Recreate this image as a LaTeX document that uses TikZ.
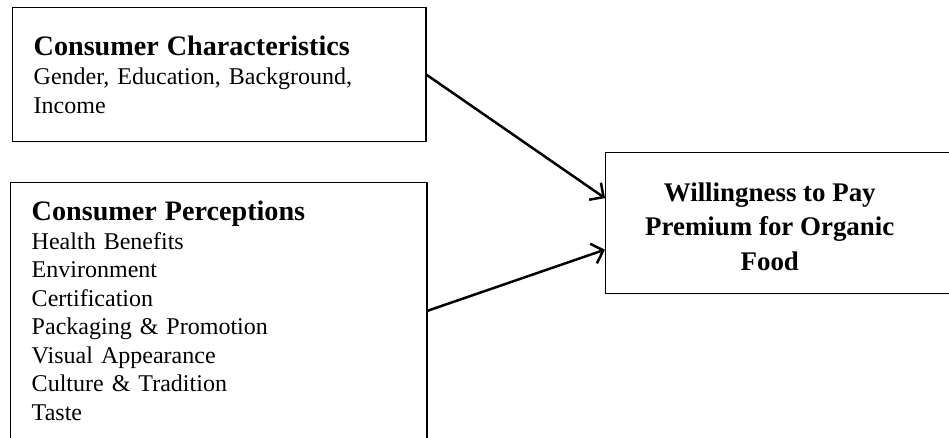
\documentclass[tikz,border=0pt]{standalone}
\usepackage{fontspec}
\setmainfont{Liberation Serif}
\usepackage{tikz}
\usetikzlibrary{arrows.meta,calc,positioning,shadows}
\tikzset{%
	factor/.style  = {draw, rectangle, anchor=north west, align=left, inner xsep=10pt, inner ysep=0pt, line width=0.7pt, fill=white, drop shadow={shadow xshift=0.6pt, shadow yshift=-0.8pt, opacity=0.15}},
	outcome/.style = {draw, rectangle, anchor=north west, line width=0.7pt, fill=white, drop shadow={shadow xshift=0.6pt, shadow yshift=-0.8pt, opacity=0.15}},
	arrow/.style   = {line width=1.2pt, -{Straight Barb[length=5pt,width=10pt,line width=1.2pt]}},
}
\newcommand{\boxtitle}[1]{{\fontsize{13.6}{16}\selectfont\bfseries #1}}

\begin{document}
\begin{tikzpicture}
	\clip (0,0) rectangle (16.11,-7.42);  % page frame
	
	\node[factor, minimum width=7.012cm, minimum height=2.275cm, text width=6.3cm, font=\fontsize{11.6}{14}\selectfont] (traits) at (0.204,-0.119)
		{\boxtitle{Consumer Characteristics}\\[0pt] Gender, Education, Background,\\ Income\\[2pt]};
	
	\node[factor, minimum width=7.063cm, minimum height=4.347cm, text width=6.35cm, font=\fontsize{11.6}{13.8}\selectfont] (percep) at (0.170,-3.090)
		{\boxtitle{Consumer Perceptions}\\ Health Benefits\\ Environment\\ Certification\\ Packaging \& Promotion\\ Visual Appearance\\ Culture \& Tradition\\ Taste};
	
	\node[outcome, minimum width=6.03cm, minimum height=2.39cm] (wtp) at (10.27,-2.581) {};
	\node[align=center, font=\fontsize{13}{16.5}\selectfont\bfseries] (wtptext) at ([xshift=-0.23cm,yshift=-0.06cm]wtp.center)
		{Willingness to Pay\\ Premium for Organic\\ Food};
	
	\draw[arrow] (traits.east) -- ([yshift=0.425cm]wtp.west);
	\draw[arrow] (percep.east) -- ([yshift=-0.45cm]wtp.west);
\end{tikzpicture}
\end{document}
